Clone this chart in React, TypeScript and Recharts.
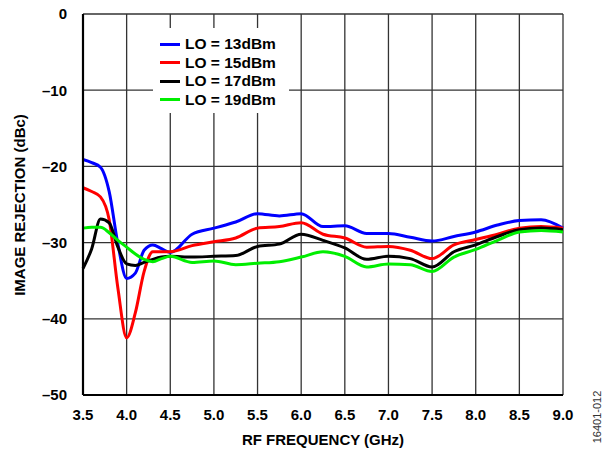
import React from 'react';
import { LineChart, Line, XAxis, YAxis, CartesianGrid, Legend } from 'recharts';

const freq = [3.5, 3.6, 3.7, 3.8, 3.9, 4.0, 4.1, 4.2, 4.3, 4.4, 4.5, 4.75, 5.0, 5.25, 5.5, 5.75, 6.0, 6.25, 6.5, 6.75, 7.0, 7.25, 7.5, 7.75, 8.0, 8.25, 8.5, 8.75, 9.0];
const lo13 = [-19.1, -19.5, -20.1, -23.3, -30.2, -34.7, -34.0, -31.0, -30.3, -30.8, -31.3, -28.9, -28.1, -27.3, -26.2, -26.5, -26.2, -27.9, -27.8, -28.8, -28.8, -29.3, -29.8, -29.2, -28.6, -27.7, -27.1, -27.0, -28.1];
const lo15 = [-22.8, -23.3, -24.0, -27.0, -36.0, -42.5, -39.2, -33.8, -31.2, -31.2, -31.2, -30.4, -29.9, -29.4, -28.1, -27.9, -27.4, -28.9, -29.4, -30.6, -30.5, -31.0, -32.1, -30.3, -29.6, -28.9, -28.1, -27.9, -28.1];
const lo17 = [-33.4, -30.8, -26.9, -27.4, -30.6, -32.8, -33.0, -32.6, -32.2, -31.9, -31.8, -31.9, -31.8, -31.7, -30.5, -30.2, -28.9, -29.7, -30.7, -32.2, -31.8, -32.1, -33.2, -31.2, -30.3, -29.2, -28.3, -28.1, -28.3];
const lo19 = [-28.1, -28.0, -28.0, -28.7, -29.7, -30.6, -31.5, -32.2, -32.5, -32.1, -31.8, -32.6, -32.4, -32.9, -32.7, -32.5, -31.9, -31.2, -31.8, -33.2, -32.8, -32.9, -33.8, -31.9, -30.9, -29.7, -28.6, -28.4, -28.6];

const xTicks = [3.5, 4.0, 4.5, 5.0, 5.5, 6.0, 6.5, 7.0, 7.5, 8.0, 8.5, 9.0];
const yTicks = [-50, -40, -30, -20, -10, 0];

const seriesNames = ['LO = 13dBm', 'LO = 15dBm', 'LO = 17dBm', 'LO = 19dBm'];
const seriesKeys = ['lo13', 'lo15', 'lo17', 'lo19'];
const seriesColors = ['#0000ff', '#ff0000', '#000000', '#00ee00'];

const data = freq.map((f, i) => ({ f, lo13: lo13[i], lo15: lo15[i], lo17: lo17[i], lo19: lo19[i] }));

const FONT = '"Liberation Sans", Arial, Helvetica, sans-serif';

const renderLegend = () => (
  <div style={{ background: '#fff', width: 136, height: 85, boxSizing: 'border-box', paddingTop: 7, paddingLeft: 7 }}>
    {seriesNames.map((n, i) => (
      <div key={n} style={{ display: 'flex', alignItems: 'center', height: 18.5 }}>
        <div style={{ width: 20, height: 3, background: seriesColors[i], marginRight: 5 }} />
        <span style={{ fontFamily: FONT, fontWeight: 'bold', fontSize: 15.5, color: '#000', lineHeight: '18px' }}>{n}</span>
      </div>
    ))}
  </div>
);

const fmtY = (v: number) => (v < 0 ? '\u2013' + Math.abs(v) : String(v));

export default function App() {
  return (
    <div style={{ position: 'absolute', left: 0, top: 0, width: 607, height: 450, background: '#fff' }}>
      <LineChart width={607} height={450} data={data} margin={{ top: 14, right: 44, bottom: 0, left: 0 }}>
        <CartesianGrid stroke="#333" strokeWidth={1.3} />
        <XAxis
          dataKey="f"
          type="number"
          domain={[3.5, 9]}
          ticks={xTicks}
          tickFormatter={(v: number) => v.toFixed(1)}
          height={55}
          tickLine={false}
          tickSize={0}
          tickMargin={14}
          axisLine={{ stroke: '#000', strokeWidth: 2.2 }}
          tick={{ fill: '#000', fontFamily: FONT, fontWeight: 'bold', fontSize: 15 }}
          interval={0}
          label={{
            content: () => (
              <text x={323} y={445} textAnchor="middle" fontFamily={FONT} fontWeight="bold" fontSize={15} fill="#000">
                RF FREQUENCY (GHz)
              </text>
            ),
          }}
        />
        <YAxis
          type="number"
          domain={[-50, 0]}
          ticks={yTicks}
          tickFormatter={fmtY}
          width={83}
          tickLine={false}
          tickSize={0}
          tickMargin={16}
          axisLine={{ stroke: '#000', strokeWidth: 2.2 }}
          tick={{ fill: '#000', fontFamily: FONT, fontWeight: 'bold', fontSize: 15 }}
          interval={0}
          label={{
            content: () => (
              <text transform="translate(25,205) rotate(-90)" textAnchor="middle" fontFamily={FONT} fontWeight="bold" fontSize={15} fill="#000">
                IMAGE REJECTION (dBc)
              </text>
            ),
          }}
        />
        <Legend
          layout="vertical"
          align="center"
          verticalAlign="middle"
          content={renderLegend}
          wrapperStyle={{ position: 'absolute', left: 153, top: 28, width: 136, height: 85 }}
        />
        {seriesKeys.map((k, i) => (
          <Line
            key={k}
            dataKey={k}
            name={seriesNames[i]}
            type="monotone"
            stroke={seriesColors[i]}
            strokeWidth={3}
            dot={false}
            activeDot={false}
            isAnimationActive={false}
          />
        ))}
      </LineChart>
      <svg width={607} height={450} style={{ position: 'absolute', left: 0, top: 0, pointerEvents: 'none' }}>
        <text transform="translate(601,417) rotate(-90)" textAnchor="middle" fontFamily={FONT} fontSize={11} fill="#333">
          16401-012
        </text>
      </svg>
    </div>
  );
}
